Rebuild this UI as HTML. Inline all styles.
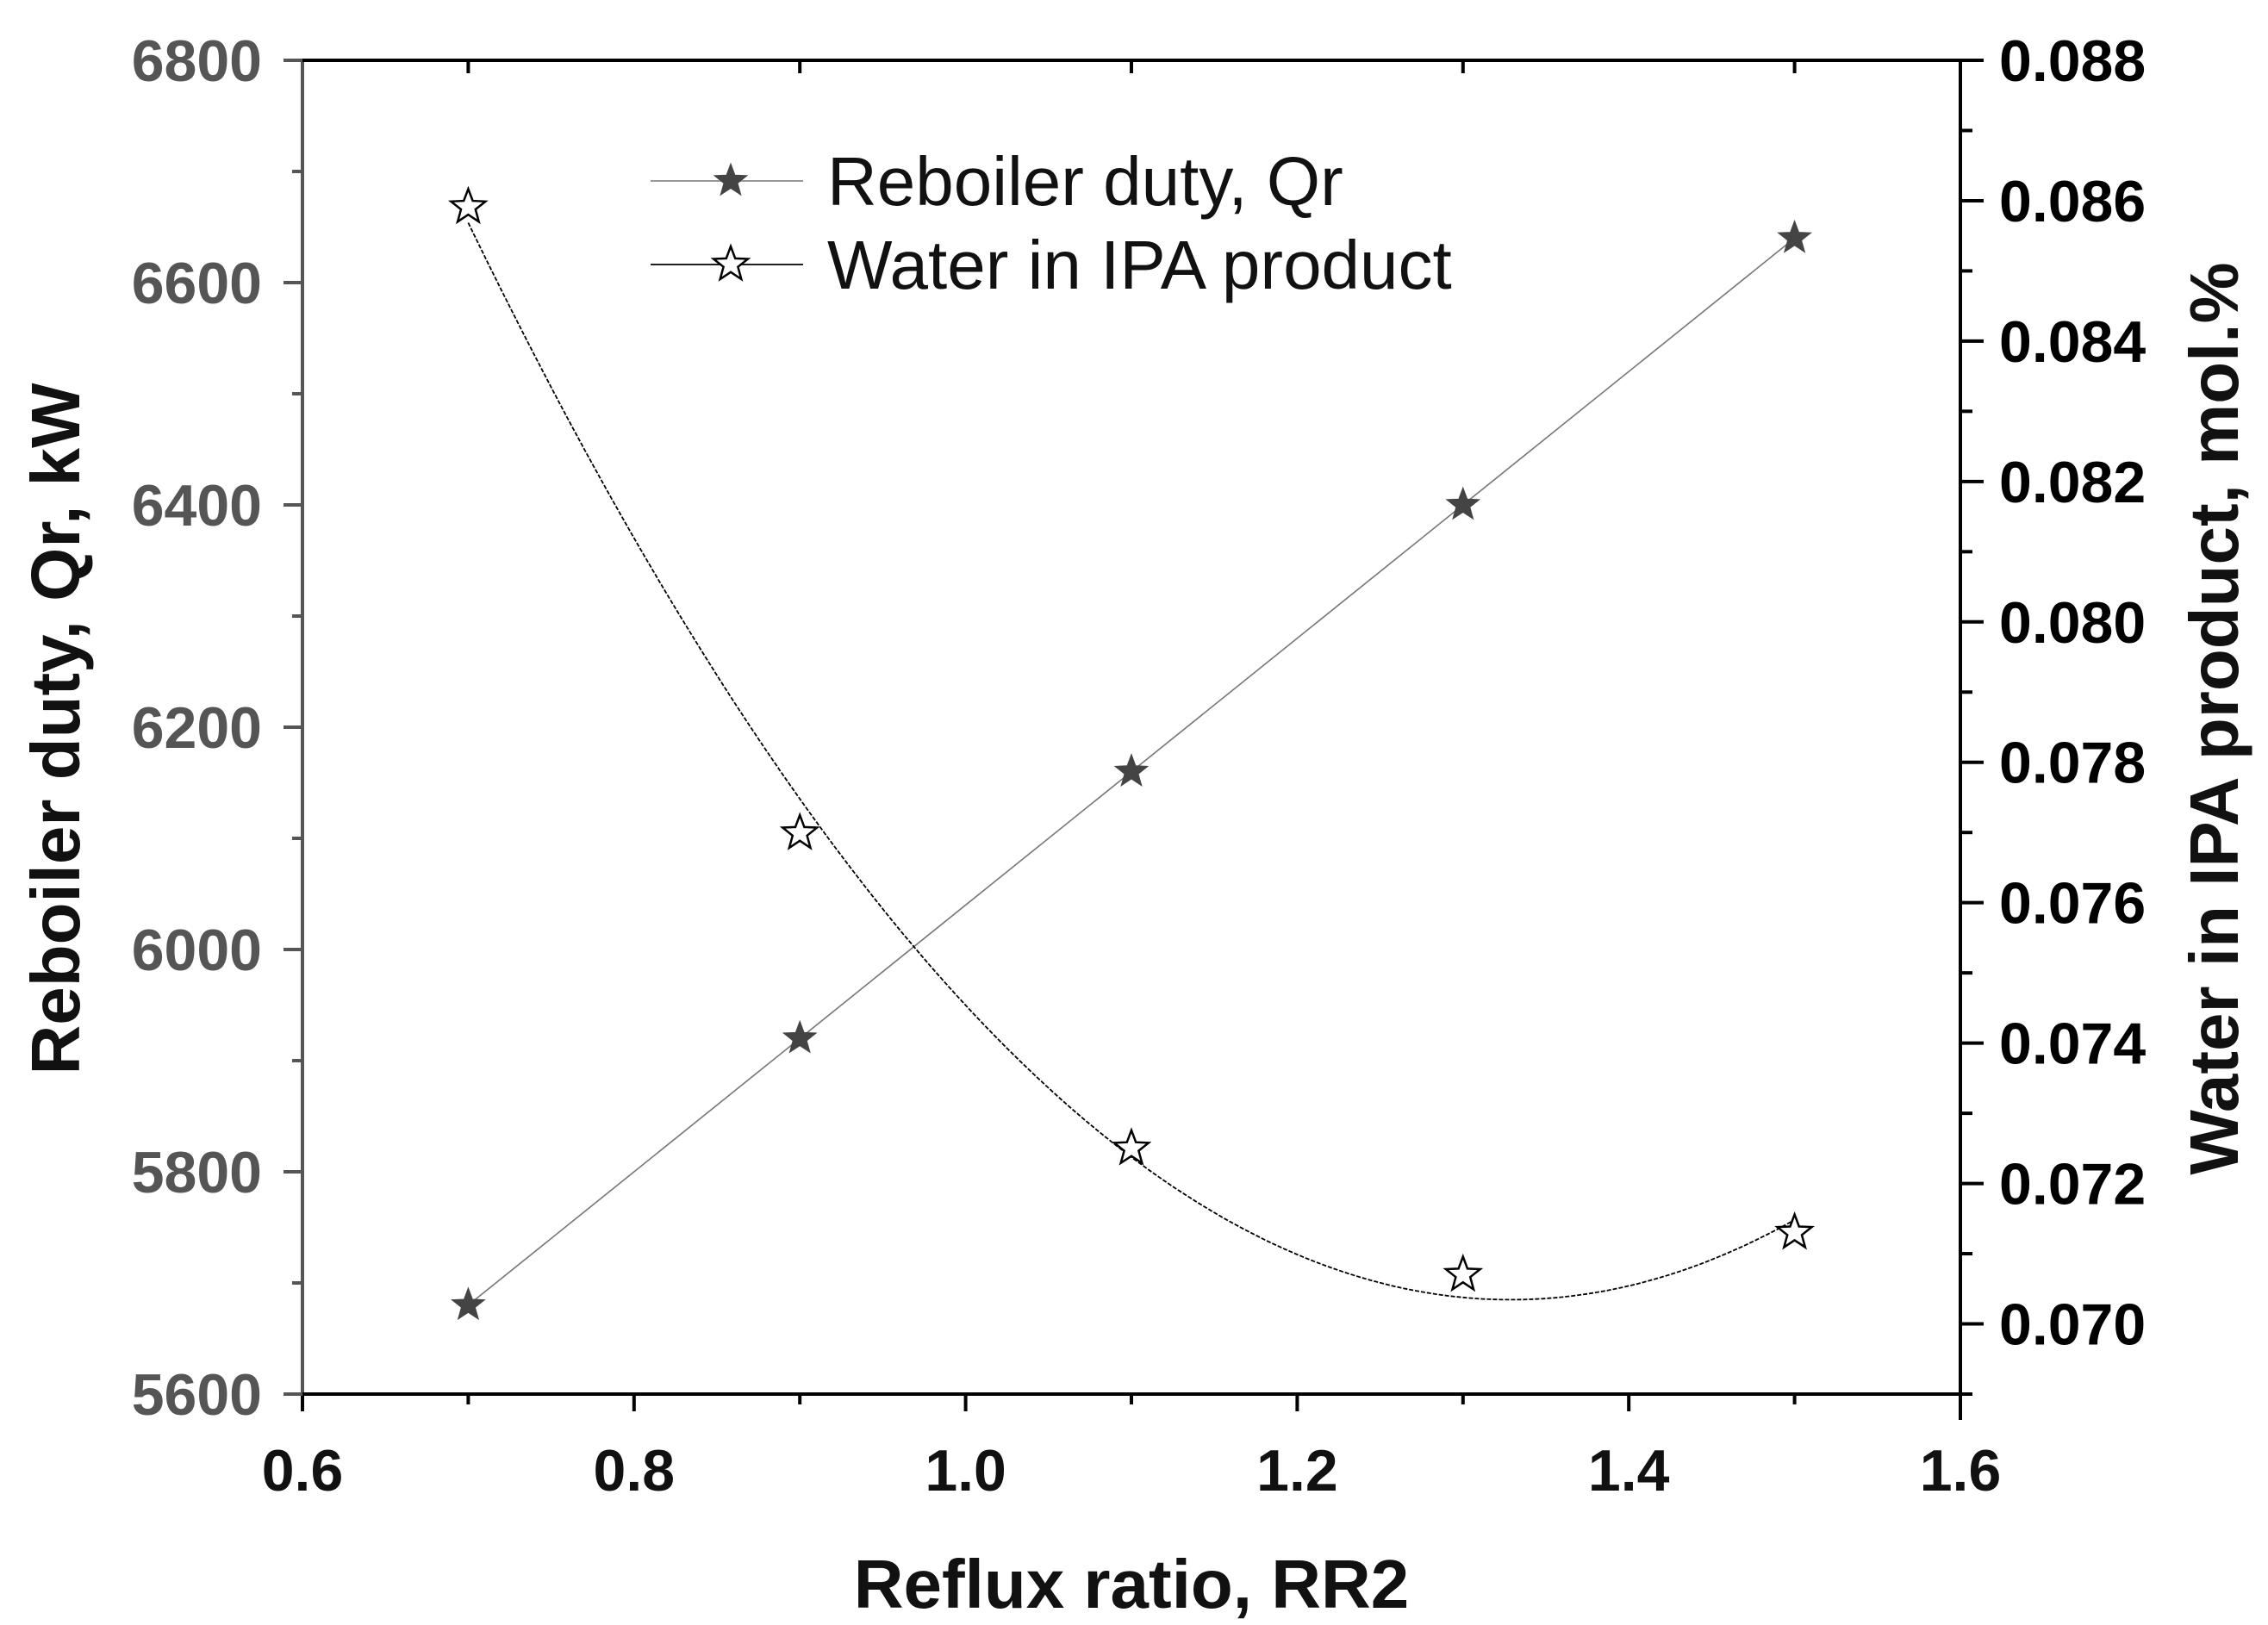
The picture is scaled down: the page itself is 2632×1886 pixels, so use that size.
<!DOCTYPE html>
<html><head><meta charset="utf-8"><style>
html,body{margin:0;padding:0;background:#fff;}
svg{display:block;font-family:"Liberation Sans",Arial,sans-serif;font-weight:bold;}
</style></head><body>
<svg id="chart" width="2632" height="1886" viewBox="0 0 2632 1886" xmlns="http://www.w3.org/2000/svg"></svg>
<script>
const refluxRatio=[0.7,0.9,1.1,1.3,1.5];
const reboilerDuty=[5680,5920,6160,6400,6640];
const waterContent=[0.08591,0.07699,0.0725,0.0707,0.0713];
const xTicks=[0.6,0.8,1.0,1.2,1.4,1.6];
const yLeftTicks=[5600,5800,6000,6200,6400,6600,6800];
const yRightTicks=[0.070,0.072,0.074,0.076,0.078,0.080,0.082,0.084,0.086,0.088];

const L=351,R=2275,T=70,B=1618;
const X=v=>L+(v-0.6)/(1.6-0.6)*(R-L);
const YL=v=>B-(v-5600)/(6800-5600)*(B-T);
const YR=v=>B-(v-0.069)/(0.088-0.069)*(B-T);
const svg=document.getElementById('chart');
const NS='http://www.w3.org/2000/svg';
function mk(tag,attrs,parent){const e=document.createElementNS(NS,tag);for(const k in attrs)e.setAttribute(k,attrs[k]);(parent||svg).appendChild(e);return e;}
function starPts(cx,cy,r){let p=[];for(let i=0;i<10;i++){const a=-Math.PI/2+i*Math.PI/5;const rr=i%2?r*0.42:r;p.push((cx+rr*Math.cos(a)).toFixed(1)+','+(cy+rr*Math.sin(a)).toFixed(1));}return p.join(' ');}

let e;
e=mk('line',{x1:L,y1:T-2,x2:L,y2:B,stroke:'#555','stroke-width':4});

e=mk('line',{x1:L,y1:B,x2:R,y2:B,stroke:'#000','stroke-width':4});

e=mk('line',{x1:L-2,y1:T,x2:R,y2:T,stroke:'#000','stroke-width':4});

e=mk('line',{x1:R,y1:T-2,x2:R,y2:B+30,stroke:'#000','stroke-width':4});


xTicks.forEach(v=>{
  mk('line',{x1:X(v),y1:B,x2:X(v),y2:B+20,stroke:'#000','stroke-width':4});
  const t=mk('text',{x:X(v),y:1730,'text-anchor':'middle','font-size':68,fill:'#111'});t.textContent=v.toFixed(1);
  
});
for(let i=0;i<5;i++){const v=0.7+i*0.2;mk('line',{x1:X(v),y1:T,x2:X(v),y2:T+15,stroke:'#000','stroke-width':4});mk('line',{x1:X(v),y1:B,x2:X(v),y2:B+12,stroke:'#000','stroke-width':4});}
yLeftTicks.forEach(v=>{
  mk('line',{x1:L-22,y1:YL(v),x2:L,y2:YL(v),stroke:'#555','stroke-width':4});
  const t=mk('text',{x:304,y:YL(v)+24,'text-anchor':'end','font-size':68,fill:'#555'});t.textContent=v;
  
});
for(let v=5700;v<6800;v+=200)mk('line',{x1:L-12,y1:YL(v),x2:L,y2:YL(v),stroke:'#555','stroke-width':4});
yRightTicks.forEach(v=>{
  mk('line',{x1:R,y1:YR(v),x2:R+27,y2:YR(v),stroke:'#000','stroke-width':4});
  const t=mk('text',{x:2320,y:YR(v)+24,'text-anchor':'start','font-size':68,fill:'#000'});t.textContent=v.toFixed(3);
  
});
for(let k=69;k<88;k+=2)mk('line',{x1:R,y1:YR(k/1000),x2:R+14,y2:YR(k/1000),stroke:'#000','stroke-width':4});

e=mk('text',{x:1313,y:1866,'text-anchor':'middle','font-size':80,fill:'#111'});e.textContent='Reflux ratio, RR2';

e=mk('text',{x:0,y:0,'text-anchor':'middle','font-size':80,fill:'#111',transform:'translate(92,846) rotate(-90)'});e.textContent='Reboiler duty, Qr, kW';

e=mk('text',{x:0,y:0,'text-anchor':'middle','font-size':80,fill:'#111',transform:'translate(2597,834) rotate(-90)'});e.textContent='Water in IPA product, mol.%';


e=mk('polyline',{points:refluxRatio.map((x,i)=>X(x)+','+YL(reboilerDuty[i])).join(' '),fill:'none',stroke:'#777','stroke-width':1.6});

refluxRatio.forEach((x,i)=>{const s=mk('polygon',{points:starPts(X(x),YL(reboilerDuty[i]),20),fill:'#444',stroke:'#444','stroke-width':1});
  });

(function(){
  const n=refluxRatio.length;let S=[0,0,0,0,0],Sy=[0,0,0];
  refluxRatio.forEach((x,i)=>{for(let k=0;k<5;k++)S[k]+=Math.pow(x,k);for(let k=0;k<3;k++)Sy[k]+=Math.pow(x,k)*waterContent[i];});
  const A=[[S[0],S[1],S[2],Sy[0]],[S[1],S[2],S[3],Sy[1]],[S[2],S[3],S[4],Sy[2]]];
  for(let i=0;i<3;i++){for(let j=i+1;j<3;j++){const f=A[j][i]/A[i][i];for(let k=i;k<4;k++)A[j][k]-=f*A[i][k];}}
  const c=[0,0,0];for(let i=2;i>=0;i--){let s=A[i][3];for(let k=i+1;k<3;k++)s-=A[i][k]*c[k];c[i]=s/A[i][i];}
  const x0=refluxRatio[0],x1=refluxRatio[n-1];let pts=[];
  for(let k=0;k<=200;k++){const x=x0+(x1-x0)*k/200;pts.push(X(x).toFixed(1)+','+YR(c[0]+c[1]*x+c[2]*x*x).toFixed(1));}
  const p=mk('polyline',{points:pts.join(' '),fill:'none',stroke:'#000','stroke-width':1.8,'stroke-dasharray':'5,2'});
  
})();
refluxRatio.forEach((x,i)=>{const s=mk('polygon',{points:starPts(X(x),YR(waterContent[i]),21),fill:'#fff',stroke:'#000','stroke-width':2.5});
  });

const lg=mk('g',{});
mk('line',{x1:755,y1:210,x2:932,y2:210,stroke:'#777','stroke-width':1.6},lg);
mk('polygon',{points:starPts(848,210,20),fill:'#444',stroke:'#444'},lg);
e=mk('text',{x:960,y:238,'font-size':80,'font-weight':'normal',fill:'#111'},lg);e.textContent='Reboiler duty, Qr';

mk('line',{x1:755,y1:307,x2:932,y2:307,stroke:'#000','stroke-width':1.8},lg);
mk('polygon',{points:starPts(848,307,21),fill:'#fff',stroke:'#000','stroke-width':2.5},lg);
e=mk('text',{x:960,y:335,'font-size':80,'font-weight':'normal',fill:'#111'},lg);e.textContent='Water in IPA product';

</script>
</body></html>
